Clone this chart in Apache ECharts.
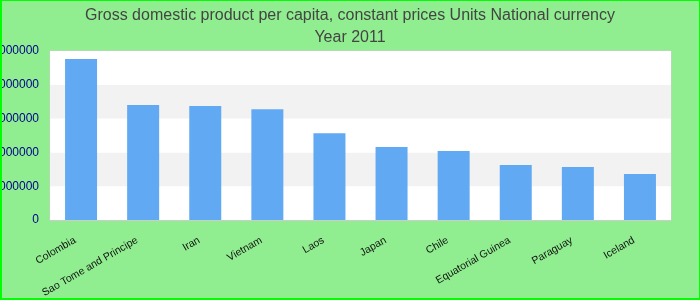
<!DOCTYPE html>
<html>
<head>
<meta charset="utf-8">
<script src="https://cdn.jsdelivr.net/npm/echarts@6/dist/echarts.min.js"></script>
<style>
html,body{margin:0;padding:0;background:#90ee90;}
#wrap{position:absolute;left:0;top:0;width:700px;height:300px;box-sizing:border-box;border-style:solid;border-color:#00ff00;border-width:1px 1px 2px 2px;pointer-events:none;}
#chart{position:absolute;left:0;top:0;width:700px;height:300px;}
</style>
</head>
<body>
<div id="chart"></div>
<div id="wrap"></div>
<script>
var categories = ["Colombia", "Sao Tome and Principe", "Iran", "Vietnam", "Laos", "Japan", "Chile", "Equatorial Guinea", "Paraguay", "Iceland"];
var values = [4760000, 3400000, 3370000, 3280000, 2570000, 2160000, 2040000, 1630000, 1570000, 1360000];
var titleLines = ["Gross domestic product per capita, constant prices Units National currency", "Year 2011"];
var yMax = 5000000;
var yInterval = 1000000;

var chart = echarts.init(document.getElementById('chart'), null, {renderer: 'canvas'});
chart.setOption({
  backgroundColor: '#90ee90',
  animation: false,
  title: {
    text: titleLines.join('\n'),
    left: 'center',
    top: 0,
    textStyle: {fontSize: 16, fontWeight: 'normal', color: '#444', lineHeight: 22, fontFamily: 'Liberation Sans, Arial, sans-serif'}
  },
  grid: {left: 50, right: 29, top: 51, bottom: 80, containLabel: false, outerBoundsMode: 'none', show: true, backgroundColor: '#fff', borderColor: '#ccc', borderWidth: 1},
  xAxis: {
    type: 'category',
    data: categories,
    axisLine: {show: true, lineStyle: {color: '#ccc'}},
    axisTick: {show: false},
    axisLabel: {rotate: 30, interval: 0, fontSize: 10.5, color: '#111', margin: 16, padding: [0, 7, 0, 0], fontFamily: 'Liberation Sans, Arial, sans-serif'}
  },
  yAxis: {
    type: 'value',
    min: 0,
    max: yMax,
    interval: yInterval,
    axisLine: {show: false},
    axisTick: {show: false},
    splitLine: {show: false},
    splitArea: {show: true, areaStyle: {color: ['#ffffff', '#f2f2f2']}},
    axisLabel: {fontSize: 12, color: '#00008b', margin: 11, fontFamily: 'Liberation Sans, Arial, sans-serif', formatter: function (v) { return String(v); }}
  },
  series: [{
    type: 'bar',
    data: values,
    barWidth: 32,
    itemStyle: {color: '#62a9f4'}
  }]
});
</script>
</body>
</html>
